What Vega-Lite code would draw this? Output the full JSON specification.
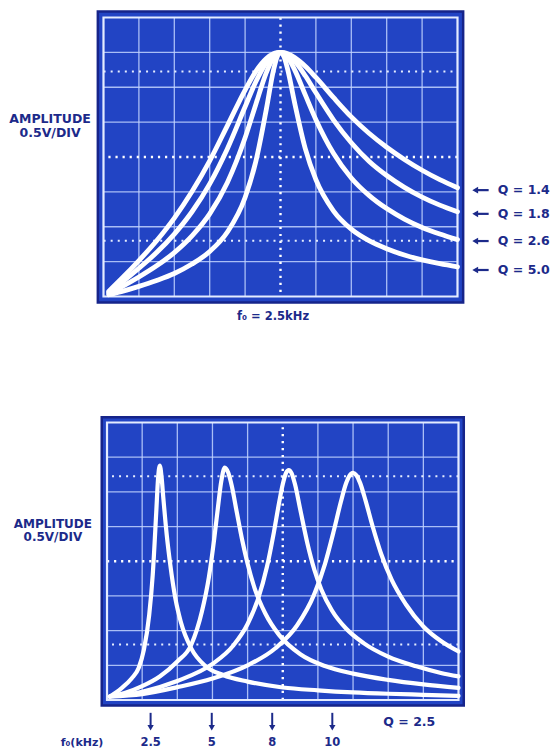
{
  "$schema": "https://vega.github.io/schema/vega-lite/v6.json",
  "autosize": {"type": "none"},
  "padding": {"left": 103.5, "top": 17.5, "right": 450.5, "bottom": 733.5},
  "background": "white",
  "bounds": "flush",
  "spacing": 126,
  "config": {"view": {"stroke": null}},
  "datasets": {
    "vgrid": [{"v": 1}, {"v": 2}, {"v": 3}, {"v": 4}, {"v": 6}, {"v": 7}, {"v": 8}, {"v": 9}],
    "hgrid": [{"v": 1}, {"v": 2}, {"v": 3}, {"v": 5}, {"v": 6}, {"v": 7}],
    "top_curves": [
      {"q": "1.4", "x": 0.15, "y": 0.15}, {"q": "1.4", "x": 0.5, "y": 0.5}, {"q": "1.4", "x": 1, "y": 1.03}, {"q": "1.4", "x": 1.5, "y": 1.6}, {"q": "1.4", "x": 2, "y": 2.25}, {"q": "1.4", "x": 2.5, "y": 3.01}, {"q": "1.4", "x": 3, "y": 3.89}, {"q": "1.4", "x": 3.5, "y": 4.9}, {"q": "1.4", "x": 4, "y": 5.92}, {"q": "1.4", "x": 4.3, "y": 6.45}, {"q": "1.4", "x": 4.6, "y": 6.82}, {"q": "1.4", "x": 4.8, "y": 6.96}, {"q": "1.4", "x": 4.9, "y": 6.99}, {"q": "1.4", "x": 5, "y": 7.0}, {"q": "1.4", "x": 5.1, "y": 6.99}, {"q": "1.4", "x": 5.2, "y": 6.96}, {"q": "1.4", "x": 5.4, "y": 6.85}, {"q": "1.4", "x": 5.7, "y": 6.6}, {"q": "1.4", "x": 6, "y": 6.28}, {"q": "1.4", "x": 6.5, "y": 5.7}, {"q": "1.4", "x": 7, "y": 5.15}, {"q": "1.4", "x": 7.5, "y": 4.68}, {"q": "1.4", "x": 8, "y": 4.28}, {"q": "1.4", "x": 8.5, "y": 3.93}, {"q": "1.4", "x": 9, "y": 3.62}, {"q": "1.4", "x": 9.5, "y": 3.35}, {"q": "1.4", "x": 10, "y": 3.12},
      {"q": "1.8", "x": 0.15, "y": 0.12}, {"q": "1.8", "x": 0.5, "y": 0.39}, {"q": "1.8", "x": 1, "y": 0.81}, {"q": "1.8", "x": 1.5, "y": 1.26}, {"q": "1.8", "x": 2, "y": 1.79}, {"q": "1.8", "x": 2.5, "y": 2.43}, {"q": "1.8", "x": 3, "y": 3.23}, {"q": "1.8", "x": 3.5, "y": 4.24}, {"q": "1.8", "x": 4, "y": 5.44}, {"q": "1.8", "x": 4.3, "y": 6.15}, {"q": "1.8", "x": 4.6, "y": 6.7}, {"q": "1.8", "x": 4.8, "y": 6.93}, {"q": "1.8", "x": 4.9, "y": 6.98}, {"q": "1.8", "x": 5, "y": 7.0}, {"q": "1.8", "x": 5.1, "y": 6.98}, {"q": "1.8", "x": 5.2, "y": 6.93}, {"q": "1.8", "x": 5.4, "y": 6.75}, {"q": "1.8", "x": 5.7, "y": 6.33}, {"q": "1.8", "x": 6, "y": 5.84}, {"q": "1.8", "x": 6.5, "y": 5.06}, {"q": "1.8", "x": 7, "y": 4.41}, {"q": "1.8", "x": 7.5, "y": 3.88}, {"q": "1.8", "x": 8, "y": 3.47}, {"q": "1.8", "x": 8.5, "y": 3.13}, {"q": "1.8", "x": 9, "y": 2.85}, {"q": "1.8", "x": 9.5, "y": 2.62}, {"q": "1.8", "x": 10, "y": 2.43},
      {"q": "2.6", "x": 0.15, "y": 0.08}, {"q": "2.6", "x": 0.5, "y": 0.27}, {"q": "2.6", "x": 1, "y": 0.56}, {"q": "2.6", "x": 1.5, "y": 0.88}, {"q": "2.6", "x": 2, "y": 1.26}, {"q": "2.6", "x": 2.5, "y": 1.74}, {"q": "2.6", "x": 3, "y": 2.37}, {"q": "2.6", "x": 3.5, "y": 3.27}, {"q": "2.6", "x": 4, "y": 4.55}, {"q": "2.6", "x": 4.3, "y": 5.5}, {"q": "2.6", "x": 4.6, "y": 6.42}, {"q": "2.6", "x": 4.8, "y": 6.85}, {"q": "2.6", "x": 4.9, "y": 6.96}, {"q": "2.6", "x": 5, "y": 7.0}, {"q": "2.6", "x": 5.1, "y": 6.96}, {"q": "2.6", "x": 5.2, "y": 6.86}, {"q": "2.6", "x": 5.4, "y": 6.5}, {"q": "2.6", "x": 5.7, "y": 5.78}, {"q": "2.6", "x": 6, "y": 5.07}, {"q": "2.6", "x": 6.5, "y": 4.1}, {"q": "2.6", "x": 7, "y": 3.4}, {"q": "2.6", "x": 7.5, "y": 2.9}, {"q": "2.6", "x": 8, "y": 2.52}, {"q": "2.6", "x": 8.5, "y": 2.22}, {"q": "2.6", "x": 9, "y": 1.98}, {"q": "2.6", "x": 9.5, "y": 1.79}, {"q": "2.6", "x": 10, "y": 1.63},
      {"q": "5.0", "x": 0.15, "y": 0.05}, {"q": "5.0", "x": 0.5, "y": 0.14}, {"q": "5.0", "x": 1, "y": 0.29}, {"q": "5.0", "x": 1.5, "y": 0.46}, {"q": "5.0", "x": 2, "y": 0.66}, {"q": "5.0", "x": 2.5, "y": 0.93}, {"q": "5.0", "x": 3, "y": 1.29}, {"q": "5.0", "x": 3.5, "y": 1.85}, {"q": "5.0", "x": 4, "y": 2.84}, {"q": "5.0", "x": 4.3, "y": 3.86}, {"q": "5.0", "x": 4.6, "y": 5.37}, {"q": "5.0", "x": 4.8, "y": 6.48}, {"q": "5.0", "x": 4.9, "y": 6.86}, {"q": "5.0", "x": 5, "y": 7.0}, {"q": "5.0", "x": 5.1, "y": 6.87}, {"q": "5.0", "x": 5.2, "y": 6.52}, {"q": "5.0", "x": 5.4, "y": 5.55}, {"q": "5.0", "x": 5.7, "y": 4.24}, {"q": "5.0", "x": 6, "y": 3.35}, {"q": "5.0", "x": 6.5, "y": 2.45}, {"q": "5.0", "x": 7, "y": 1.93}, {"q": "5.0", "x": 7.5, "y": 1.6}, {"q": "5.0", "x": 8, "y": 1.37}, {"q": "5.0", "x": 8.5, "y": 1.19}, {"q": "5.0", "x": 9, "y": 1.05}, {"q": "5.0", "x": 9.5, "y": 0.94}, {"q": "5.0", "x": 10, "y": 0.85}
    ],
    "top_qlabels": [
      {"label": "Q = 1.4", "y": 3.05}, {"label": "Q = 1.8", "y": 2.37}, {"label": "Q = 2.6", "y": 1.59}, {"label": "Q = 5.0", "y": 0.76}
    ],
    "bottom_curves": [
      {"f0": "2.5", "x": 0.08, "y": 0.1}, {"f0": "2.5", "x": 0.4, "y": 0.33}, {"f0": "2.5", "x": 0.7, "y": 0.62}, {"f0": "2.5", "x": 0.9, "y": 0.92}, {"f0": "2.5", "x": 1.05, "y": 1.45}, {"f0": "2.5", "x": 1.2, "y": 2.45}, {"f0": "2.5", "x": 1.3, "y": 3.6}, {"f0": "2.5", "x": 1.4, "y": 5.4}, {"f0": "2.5", "x": 1.45, "y": 6.35}, {"f0": "2.5", "x": 1.5, "y": 6.76}, {"f0": "2.5", "x": 1.55, "y": 6.45}, {"f0": "2.5", "x": 1.6, "y": 5.85}, {"f0": "2.5", "x": 1.7, "y": 4.75}, {"f0": "2.5", "x": 1.8, "y": 3.9}, {"f0": "2.5", "x": 1.95, "y": 2.9}, {"f0": "2.5", "x": 2.1, "y": 2.25}, {"f0": "2.5", "x": 2.4, "y": 1.48}, {"f0": "2.5", "x": 2.8, "y": 0.98}, {"f0": "2.5", "x": 3.3, "y": 0.72}, {"f0": "2.5", "x": 4, "y": 0.53}, {"f0": "2.5", "x": 5, "y": 0.36}, {"f0": "2.5", "x": 6, "y": 0.28}, {"f0": "2.5", "x": 7, "y": 0.22}, {"f0": "2.5", "x": 8, "y": 0.18}, {"f0": "2.5", "x": 9, "y": 0.15}, {"f0": "2.5", "x": 10, "y": 0.12},
      {"f0": "5", "x": 0.08, "y": 0.1}, {"f0": "5", "x": 0.5, "y": 0.2}, {"f0": "5", "x": 1, "y": 0.4}, {"f0": "5", "x": 1.5, "y": 0.68}, {"f0": "5", "x": 2, "y": 1.11}, {"f0": "5", "x": 2.4, "y": 1.6}, {"f0": "5", "x": 2.7, "y": 2.55}, {"f0": "5", "x": 2.9, "y": 3.55}, {"f0": "5", "x": 3.05, "y": 4.65}, {"f0": "5", "x": 3.15, "y": 5.5}, {"f0": "5", "x": 3.25, "y": 6.3}, {"f0": "5", "x": 3.35, "y": 6.7}, {"f0": "5", "x": 3.45, "y": 6.55}, {"f0": "5", "x": 3.55, "y": 6.17}, {"f0": "5", "x": 3.7, "y": 5.37}, {"f0": "5", "x": 3.85, "y": 4.59}, {"f0": "5", "x": 4, "y": 3.93}, {"f0": "5", "x": 4.2, "y": 3.22}, {"f0": "5", "x": 4.5, "y": 2.5}, {"f0": "5", "x": 4.9, "y": 1.87}, {"f0": "5", "x": 5.5, "y": 1.32}, {"f0": "5", "x": 6.2, "y": 0.98}, {"f0": "5", "x": 7, "y": 0.76}, {"f0": "5", "x": 8, "y": 0.58}, {"f0": "5", "x": 9, "y": 0.45}, {"f0": "5", "x": 10, "y": 0.35},
      {"f0": "8", "x": 0.08, "y": 0.1}, {"f0": "8", "x": 1, "y": 0.24}, {"f0": "8", "x": 2, "y": 0.55}, {"f0": "8", "x": 3, "y": 1.04}, {"f0": "8", "x": 3.6, "y": 1.58}, {"f0": "8", "x": 4, "y": 2.19}, {"f0": "8", "x": 4.3, "y": 2.92}, {"f0": "8", "x": 4.55, "y": 3.84}, {"f0": "8", "x": 4.75, "y": 4.85}, {"f0": "8", "x": 4.9, "y": 5.71}, {"f0": "8", "x": 5, "y": 6.22}, {"f0": "8", "x": 5.1, "y": 6.56}, {"f0": "8", "x": 5.17, "y": 6.63}, {"f0": "8", "x": 5.25, "y": 6.54}, {"f0": "8", "x": 5.35, "y": 6.21}, {"f0": "8", "x": 5.5, "y": 5.48}, {"f0": "8", "x": 5.7, "y": 4.52}, {"f0": "8", "x": 5.9, "y": 3.75}, {"f0": "8", "x": 6.1, "y": 3.18}, {"f0": "8", "x": 6.4, "y": 2.58}, {"f0": "8", "x": 6.8, "y": 2.06}, {"f0": "8", "x": 7.3, "y": 1.64}, {"f0": "8", "x": 8, "y": 1.25}, {"f0": "8", "x": 8.8, "y": 0.97}, {"f0": "8", "x": 9.5, "y": 0.78}, {"f0": "8", "x": 10, "y": 0.68},
      {"f0": "10", "x": 0.08, "y": 0.1}, {"f0": "10", "x": 1, "y": 0.17}, {"f0": "10", "x": 2, "y": 0.37}, {"f0": "10", "x": 3, "y": 0.62}, {"f0": "10", "x": 4, "y": 1.0}, {"f0": "10", "x": 4.8, "y": 1.5}, {"f0": "10", "x": 5.4, "y": 2.14}, {"f0": "10", "x": 5.9, "y": 3.06}, {"f0": "10", "x": 6.2, "y": 3.92}, {"f0": "10", "x": 6.45, "y": 4.87}, {"f0": "10", "x": 6.65, "y": 5.7}, {"f0": "10", "x": 6.8, "y": 6.24}, {"f0": "10", "x": 6.9, "y": 6.47}, {"f0": "10", "x": 7, "y": 6.55}, {"f0": "10", "x": 7.1, "y": 6.47}, {"f0": "10", "x": 7.2, "y": 6.26}, {"f0": "10", "x": 7.35, "y": 5.77}, {"f0": "10", "x": 7.55, "y": 5.03}, {"f0": "10", "x": 7.8, "y": 4.21}, {"f0": "10", "x": 8.1, "y": 3.46}, {"f0": "10", "x": 8.5, "y": 2.76}, {"f0": "10", "x": 9, "y": 2.12}, {"f0": "10", "x": 9.5, "y": 1.7}, {"f0": "10", "x": 10, "y": 1.4}
    ],
    "bottom_marks": [
      {"label": "2.5", "x": 1.24}, {"label": "5", "x": 2.98}, {"label": "8", "x": 4.7}, {"label": "10", "x": 6.41}
    ]
  },
  "vconcat": [
    {
      "width": 354,
      "height": 279,
      "layer": [
        {
          "data": {"values": [{}]},
          "mark": {"type": "rect", "fill": "#2244c4", "stroke": "#16248a", "strokeWidth": 2.5},
          "encoding": {
            "x": {"datum": -0.16, "type": "quantitative", "scale": {"domain": [0, 10], "nice": false, "zero": false}, "axis": null},
            "x2": {"datum": 10.16},
            "y": {"datum": -0.17, "type": "quantitative", "scale": {"domain": [0, 8], "nice": false, "zero": false}, "axis": null},
            "y2": {"datum": 8.17}
          }
        },
        {
          "data": {"name": "vgrid"},
          "mark": {"type": "rule", "color": "#c2d4ff", "strokeWidth": 1.3, "opacity": 0.85},
          "encoding": {"x": {"field": "v", "type": "quantitative"}}
        },
        {
          "data": {"name": "hgrid"},
          "mark": {"type": "rule", "color": "#c2d4ff", "strokeWidth": 1.3, "opacity": 0.85},
          "encoding": {"y": {"field": "v", "type": "quantitative"}}
        },
        {
          "data": {"values": [{}]},
          "mark": {"type": "rule", "color": "#ffffff", "strokeWidth": 2.4, "strokeDash": [2.2, 4.78]},
          "encoding": {"x": {"datum": 5, "type": "quantitative"}}
        },
        {
          "data": {"values": [{}]},
          "mark": {"type": "rule", "color": "#ffffff", "strokeWidth": 2.4, "strokeDash": [2.2, 4.88]},
          "encoding": {"y": {"datum": 4, "type": "quantitative"}}
        },
        {
          "data": {"values": [{"v": 6.45}, {"v": 1.6}]},
          "mark": {"type": "rule", "color": "#e6eeff", "strokeWidth": 2, "strokeDash": [2, 5.08], "strokeDashOffset": -5},
          "encoding": {"y": {"field": "v", "type": "quantitative"}}
        },
        {
          "data": {"values": [{}]},
          "mark": {"type": "rect", "fillOpacity": 0, "stroke": "#e4ecff", "strokeWidth": 2.2},
          "encoding": {
            "x": {"datum": 0, "type": "quantitative"},
            "x2": {"datum": 10},
            "y": {"datum": 0, "type": "quantitative"},
            "y2": {"datum": 8}
          }
        },
        {
          "data": {"name": "top_curves"},
          "mark": {"type": "line", "color": "#ffffff", "strokeWidth": 4.8, "interpolate": "monotone", "strokeCap": "round", "strokeJoin": "round"},
          "encoding": {
            "x": {"field": "x", "type": "quantitative"},
            "y": {"field": "y", "type": "quantitative"},
            "detail": {"field": "q"}
          }
        },
        {
          "data": {"name": "top_qlabels"},
          "mark": {"type": "rule", "color": "#1c2a8a", "strokeWidth": 2.2},
          "encoding": {
            "x": {"datum": 10.5, "type": "quantitative"},
            "x2": {"datum": 10.88},
            "y": {"field": "y", "type": "quantitative"}
          }
        },
        {
          "data": {"name": "top_qlabels"},
          "mark": {"type": "point", "shape": "triangle-left", "filled": true, "color": "#1c2a8a", "size": 45, "opacity": 1},
          "encoding": {
            "x": {"datum": 10.5, "type": "quantitative"},
            "y": {"field": "y", "type": "quantitative"}
          }
        },
        {
          "data": {"name": "top_qlabels"},
          "mark": {"type": "text", "align": "left", "baseline": "middle", "font": "DejaVu Sans", "fontWeight": "bold", "fontSize": 12.5, "color": "#1c2a8a"},
          "encoding": {
            "x": {"datum": 11.14, "type": "quantitative"},
            "y": {"field": "y", "type": "quantitative"},
            "text": {"field": "label"}
          }
        },
        {
          "data": {"values": [{"label": "AMPLITUDE\n0.5V/DIV"}]},
          "mark": {"type": "text", "align": "center", "baseline": "middle", "lineBreak": "\n", "lineHeight": 14, "font": "DejaVu Sans", "fontWeight": "bold", "fontSize": 12.5, "color": "#1c2a8a"},
          "encoding": {
            "x": {"datum": -1.51, "type": "quantitative"},
            "y": {"datum": 5.09, "type": "quantitative"},
            "text": {"field": "label"}
          }
        },
        {
          "data": {"values": [{"label": "f₀ = 2.5kHz"}]},
          "mark": {"type": "text", "align": "center", "baseline": "middle", "font": "DejaVu Sans", "fontWeight": "bold", "fontSize": 11.5, "color": "#1c2a8a"},
          "encoding": {
            "x": {"datum": 4.79, "type": "quantitative"},
            "y": {"datum": -0.59, "type": "quantitative"},
            "text": {"field": "label"}
          }
        }
      ]
    },
    {
      "width": 355,
      "height": 277.5,
      "layer": [
        {
          "data": {"values": [{}]},
          "mark": {"type": "rect", "fill": "#2244c4", "stroke": "#16248a", "strokeWidth": 2.5},
          "encoding": {
            "x": {"datum": -0.15, "type": "quantitative", "scale": {"domain": [-0.1, 10], "nice": false, "zero": false}, "axis": null},
            "x2": {"datum": 10.15},
            "y": {"datum": -0.16, "type": "quantitative", "scale": {"domain": [0, 8], "nice": false, "zero": false}, "axis": null},
            "y2": {"datum": 8.15}
          }
        },
        {
          "data": {"name": "vgrid"},
          "mark": {"type": "rule", "color": "#c2d4ff", "strokeWidth": 1.3, "opacity": 0.85},
          "encoding": {"x": {"field": "v", "type": "quantitative"}, "y": {"datum": 0, "type": "quantitative"}, "y2": {"datum": 8}}
        },
        {
          "data": {"name": "hgrid"},
          "mark": {"type": "rule", "color": "#c2d4ff", "strokeWidth": 1.3, "opacity": 0.85},
          "encoding": {"y": {"field": "v", "type": "quantitative"}, "x": {"datum": 0, "type": "quantitative"}, "x2": {"datum": 10}}
        },
        {
          "data": {"values": [{}]},
          "mark": {"type": "rule", "color": "#ffffff", "strokeWidth": 2.4, "strokeDash": [2.2, 4.74]},
          "encoding": {"x": {"datum": 5, "type": "quantitative"}, "y": {"datum": 0, "type": "quantitative"}, "y2": {"datum": 8}}
        },
        {
          "data": {"values": [{}]},
          "mark": {"type": "rule", "color": "#ffffff", "strokeWidth": 2.4, "strokeDash": [2.2, 4.83]},
          "encoding": {"y": {"datum": 4, "type": "quantitative"}, "x": {"datum": 0, "type": "quantitative"}, "x2": {"datum": 10}}
        },
        {
          "data": {"values": [{"v": 6.45}, {"v": 1.6}]},
          "mark": {"type": "rule", "color": "#e6eeff", "strokeWidth": 2, "strokeDash": [2, 5.03], "strokeDashOffset": -5},
          "encoding": {"y": {"field": "v", "type": "quantitative"}, "x": {"datum": 0, "type": "quantitative"}, "x2": {"datum": 10}}
        },
        {
          "data": {"values": [{}]},
          "mark": {"type": "rect", "fillOpacity": 0, "stroke": "#e4ecff", "strokeWidth": 2.2},
          "encoding": {
            "x": {"datum": 0, "type": "quantitative"},
            "x2": {"datum": 10},
            "y": {"datum": 0, "type": "quantitative"},
            "y2": {"datum": 8}
          }
        },
        {
          "data": {"name": "bottom_curves"},
          "mark": {"type": "line", "color": "#ffffff", "strokeWidth": 4.2, "interpolate": "monotone", "strokeCap": "round", "strokeJoin": "round"},
          "encoding": {
            "x": {"field": "x", "type": "quantitative"},
            "y": {"field": "y", "type": "quantitative"},
            "detail": {"field": "f0"}
          }
        },
        {
          "data": {"name": "bottom_marks"},
          "mark": {"type": "rule", "color": "#1c2a8a", "strokeWidth": 2},
          "encoding": {
            "x": {"field": "x", "type": "quantitative"},
            "y": {"datum": -0.37, "type": "quantitative"},
            "y2": {"datum": -0.78}
          }
        },
        {
          "data": {"name": "bottom_marks"},
          "mark": {"type": "point", "shape": "triangle-down", "filled": true, "color": "#1c2a8a", "size": 40, "opacity": 1},
          "encoding": {
            "x": {"field": "x", "type": "quantitative"},
            "y": {"datum": -0.8, "type": "quantitative"}
          }
        },
        {
          "data": {"name": "bottom_marks"},
          "mark": {"type": "text", "align": "center", "baseline": "middle", "font": "DejaVu Sans", "fontWeight": "bold", "fontSize": 11.5, "color": "#1c2a8a"},
          "encoding": {
            "x": {"field": "x", "type": "quantitative"},
            "y": {"datum": -1.24, "type": "quantitative"},
            "text": {"field": "label"}
          }
        },
        {
          "data": {"values": [{"label": "f₀(kHz)"}]},
          "mark": {"type": "text", "align": "center", "baseline": "middle", "font": "DejaVu Sans", "fontWeight": "bold", "fontSize": 11, "color": "#1c2a8a"},
          "encoding": {
            "x": {"datum": -0.71, "type": "quantitative"},
            "y": {"datum": -1.24, "type": "quantitative"},
            "text": {"field": "label"}
          }
        },
        {
          "data": {"values": [{"label": "Q = 2.5"}]},
          "mark": {"type": "text", "align": "center", "baseline": "middle", "font": "DejaVu Sans", "fontWeight": "bold", "fontSize": 12.5, "color": "#1c2a8a"},
          "encoding": {
            "x": {"datum": 8.6, "type": "quantitative"},
            "y": {"datum": -0.63, "type": "quantitative"},
            "text": {"field": "label"}
          }
        },
        {
          "data": {"values": [{"label": "AMPLITUDE\n0.5V/DIV"}]},
          "mark": {"type": "text", "align": "center", "baseline": "middle", "lineBreak": "\n", "lineHeight": 13, "font": "DejaVu Sans", "fontWeight": "bold", "fontSize": 12, "color": "#1c2a8a"},
          "encoding": {
            "x": {"datum": -1.54, "type": "quantitative"},
            "y": {"datum": 5.06, "type": "quantitative"},
            "text": {"field": "label"}
          }
        }
      ]
    }
  ]
}
